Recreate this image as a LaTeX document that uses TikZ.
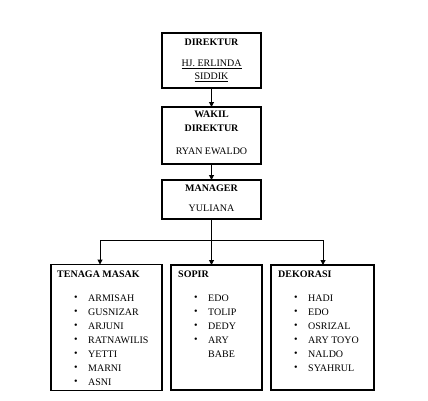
\documentclass[tikz,border=0pt]{standalone}
\usepackage{fontspec}
\setmainfont{Liberation Serif}
\usetikzlibrary{arrows.meta}
\tikzset{
  box/.style={draw, line width=1.1pt, inner sep=0pt, outer sep=0pt},
  arr/.style={line width=1pt, -{Triangle[length=5pt,width=5pt]}},
  conn/.style={line width=1pt},
  hd/.style={font=\fontsize{10}{12}\selectfont\bfseries, inner sep=0pt, anchor=west},
  hdc/.style={font=\fontsize{10}{12}\selectfont\bfseries, inner sep=0pt},
  nm/.style={font=\fontsize{10}{12}\selectfont, inner sep=0pt},
  it/.style={font=\fontsize{10}{12}\selectfont, inner sep=0pt, anchor=west},
}
\begin{document}
\begin{tikzpicture}[x=1pt,y=-1pt]
\useasboundingbox (0,0) rectangle (428,400);
% boxes
\node[box, minimum width=99pt, minimum height=55pt] (dir) at (211.5,60.5) {};
\node[box, minimum width=99pt, minimum height=57pt] (wak) at (211.5,135.5) {};
\node[box, minimum width=99pt, minimum height=39pt] (mgr) at (211.5,199.5) {};
\node[box, minimum width=111pt, minimum height=126pt] (tm) at (106.5,327.5) {};
\node[box, minimum width=91pt, minimum height=125pt] (sp) at (216.5,327.5) {};
\node[box, minimum width=103pt, minimum height=125pt] (dk) at (322.5,327.5) {};
% top texts
\node[hdc] (t1) at (211.5,42) {DIREKTUR};
\node[nm] (t2) at (211.5,64) {\underline{HJ. ERLINDA}};
\node[nm] (t3) at (211.5,77.5) {\underline{SIDDIK}};
\node[hdc] (t4) at (211.5,114.5) {WAKIL};
\node[hdc] (t5) at (211.5,128.5) {DIREKTUR};
\node[nm] (t6) at (211.5,151) {RYAN EWALDO};
\node[hdc] (t7) at (211.5,188) {MANAGER};
\node[nm] (t8) at (211.5,208) {YULIANA};
% connectors
\draw[arr] (dir.south) -- (wak.north);
\draw[arr] (wak.south) -- (mgr.north);
\coordinate (jm) at (211.5,240);
\coordinate (jl) at (100,240);
\coordinate (jr) at (323,240);
\draw[conn] (mgr.south) -- (jm);
\draw[conn] (jl) -- (jr);
\draw[arr] (jl) -- (jl |- tm.north);
\draw[arr] (jm) -- (jm |- sp.north);
\draw[arr] (jr) -- (jr |- dk.north);
% TENAGA MASAK
\node[hd] (h1) at (57,274) {TENAGA MASAK};
\foreach \n/\t [count=\i] in {a/ARMISAH,b/GUSNIZAR,c/ARJUNI,d/RATNAWILIS,e/YETTI,f/MARNI,g/ASNI}{
  \node[it] (tmb\n) at (74,284+14*\i) {•};
  \node[it] (tmi\n) at (88,284+14*\i) {\t};
}
% SOPIR
\node[hd] (h2) at (178,274) {SOPIR};
\foreach \n/\t [count=\i] in {a/EDO,b/TOLIP,c/DEDY,d/ARY}{
  \node[it] (spb\n) at (194,284+14*\i) {•};
  \node[it] (spi\n) at (208,284+14*\i) {\t};
}
\node[it] (spie) at (208,354) {BABE};
% DEKORASI
\node[hd] (h3) at (278,274) {DEKORASI};
\foreach \n/\t [count=\i] in {a/HADI,b/EDO,c/OSRIZAL,d/ARY TOYO,e/NALDO,f/SYAHRUL}{
  \node[it] (dkb\n) at (294,284+14*\i) {•};
  \node[it] (dki\n) at (308,284+14*\i) {\t};
}
\end{tikzpicture}
\end{document}
